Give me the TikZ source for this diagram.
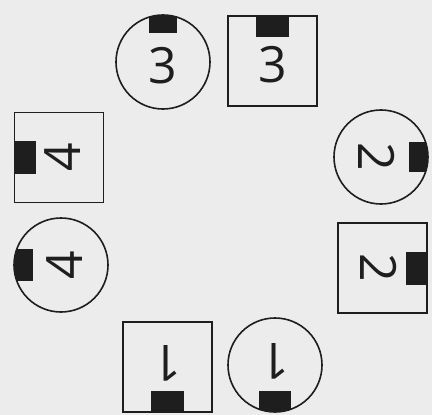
\documentclass[tikz,border=0pt]{standalone}
\usepackage{fontspec}
\usetikzlibrary{calc}
\newfontfamily\digfont{Open Sans}
\definecolor{paper}{HTML}{ECECEC}
\definecolor{ink}{HTML}{1E1E1E}
\begin{document}
\begin{tikzpicture}[x=1pt,y=-1pt,
  shapeline/.style={draw=ink, line width=1.6pt},
  circ/.style={shapeline, circle, minimum size=94pt, inner sep=0pt},
  sq/.style={shapeline, rectangle, minimum width=89pt, minimum height=90pt, inner sep=0pt},
  blk/.style={fill=ink, draw=none},
  digit/.style={font=\digfont\fontsize{50}{50}\selectfont, text=ink, inner sep=0pt}]
\fill[paper] (0,0) rectangle (432,415);
\useasboundingbox (0,0) rectangle (432,415);

% shapes
\node[circ] (c3) at (163,62) {};
\node[sq]   (s3) at (272.5,61) {};
\node[sq]   (s4) at (59,157.5) {};
\node[circ] (c4) at (61,265) {};
\node[circ] (c2) at (381,157) {};
\node[sq]   (s2) at (382.5,268) {};
\node[sq]   (s1) at (167.5,367) {};
\node[circ] (c1) at (275,365) {};

% blocks on squares
\fill[blk] ($(s3)+(-16.5,-45)$) rectangle ($(s3)+(16.5,-24)$);
\fill[blk] ($(s4)+(-44.5,-16.5)$) rectangle ($(s4)+(-23.5,16.5)$);
\fill[blk] ($(s2)+(44.5,-16.5)$) rectangle ($(s2)+(23.5,16.5)$);
\fill[blk] ($(s1)+(-16.5,45)$) rectangle ($(s1)+(16.5,24)$);

% blocks on circles
\begin{scope}
  \clip (c3) circle[radius=47];
  \fill[blk] ($(c3)+(-14,-47)$) rectangle ($(c3)+(14,-29)$);
\end{scope}
\begin{scope}
  \clip (c4) circle[radius=47];
  \fill[blk] ($(c4)+(-47,-16)$) rectangle ($(c4)+(-28,16)$);
\end{scope}
\begin{scope}
  \clip (c2) circle[radius=47];
  \fill[blk] ($(c2)+(47,-15)$) rectangle ($(c2)+(28,15)$);
\end{scope}
\begin{scope}
  \clip (c1) circle[radius=47];
  \fill[blk] ($(c1)+(-16,47)$) rectangle ($(c1)+(16,26)$);
\end{scope}

% digits
\node[digit] (dc3) at ($(c3)+(0,4)$) {3};
\node[digit] (ds3) at ($(s3)+(0,4)$) {3};
\node[digit, rotate=90] (ds4) at ($(s4)+(4,0)$) {4};
\node[digit, rotate=90] (dc4) at ($(c4)+(4,0)$) {4};
\node[digit, rotate=-90] (dc2) at ($(c2)+(-4,0)$) {2};
\node[digit, rotate=-90] (ds2) at ($(s2)+(-4,0)$) {2};
\node[digit, rotate=180] (ds1) at ($(s1)+(0,-4)$) {1};
\node[digit, rotate=180] (dc1) at ($(c1)+(0,-4)$) {1};
\end{tikzpicture}
\end{document}
